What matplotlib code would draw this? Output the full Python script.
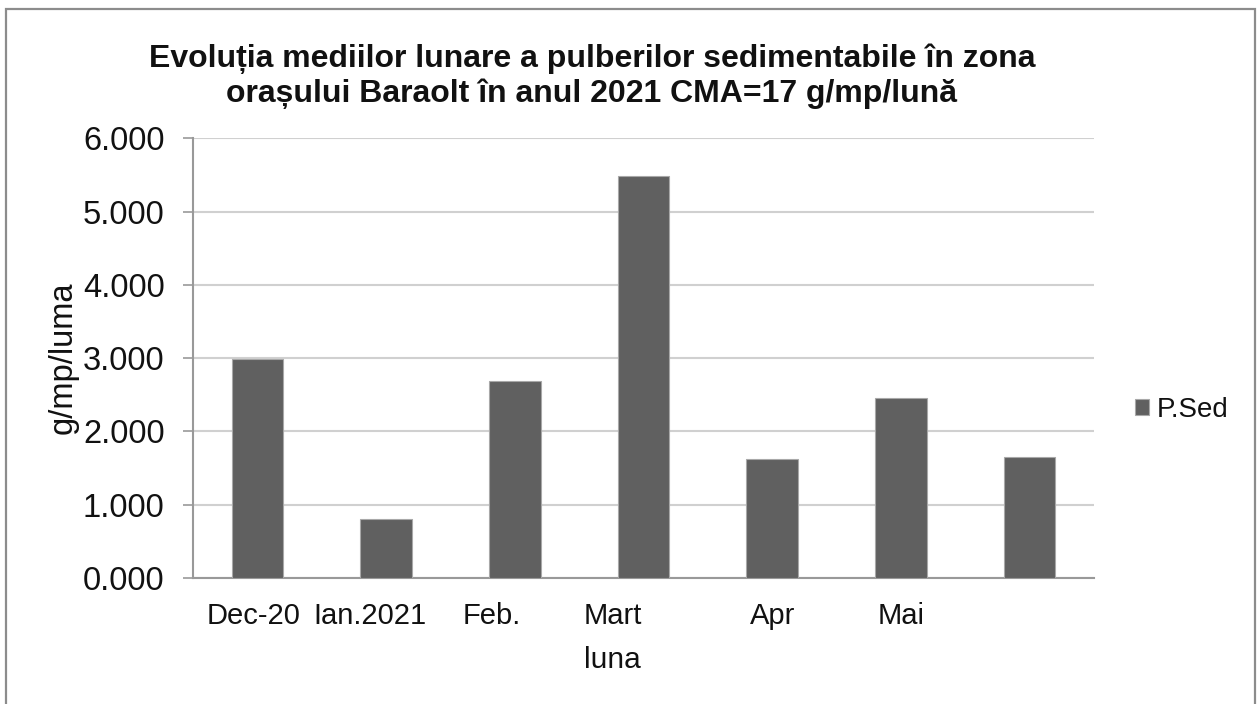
import matplotlib
matplotlib.use("Agg")
import matplotlib.pyplot as plt
import matplotlib.transforms as mtransforms
from matplotlib.patches import Rectangle
from matplotlib.ticker import FuncFormatter, MultipleLocator

categories = ["Dec-20", "Ian.2021", "Feb.", "Mart", "Apr", "Mai", ""]
values = [2.984, 0.80, 2.684, 5.49, 1.62, 2.46, 1.655]
series_name = "P.Sed"
title = "Evoluția mediilor lunare a pulberilor sedimentabile în zona\norașului Baraolt în anul 2021 CMA=17 g/mp/lună"
xlabel = "luna"
ylabel = "g/mp/luma"

plt.rcParams['font.family'] = ['Liberation Sans', 'DejaVu Sans']

W, H = 1260, 704
fig = plt.figure(figsize=(W / 100, H / 100), dpi=100)
ax = fig.add_axes([193 / W, 1 - 578 / H, (1094 - 193) / W, (578 - 138.3) / H])

x = list(range(len(categories)))
ax.bar(x, values, width=0.4, color="#606060", edgecolor="#a8a8a8", linewidth=0.8,
       label=series_name, zorder=3)

ax.set_xlim(-0.5, len(categories) - 0.5)
ax.set_ylim(0, 6)
ax.yaxis.set_major_locator(MultipleLocator(1))
ax.yaxis.set_major_formatter(FuncFormatter(lambda v, p: f"{v:.3f}"))
ax.grid(axis="y", color="#d0d0d0", linewidth=1.5, zorder=0)
ax.set_axisbelow(True)

for s in ["top", "right"]:
    ax.spines[s].set_visible(False)
for s in ["left", "bottom"]:
    ax.spines[s].set_color("#999999")
    ax.spines[s].set_linewidth(1.5)

ax.set_xticks(x)
ax.set_xticklabels(categories, fontsize=21, color="#111111")
ax.tick_params(axis="x", length=0, pad=17)
ax.tick_params(axis="y", labelsize=23.5, labelcolor="#111111", length=7.5, width=1.2,
               color="#999999", pad=13)

# horizontal shifts of the x labels as seen in the reference
shifts = [-4, -16, -23, -31, 0, 0, 0]
for lbl, dx in zip(ax.get_xticklabels(), shifts):
    lbl.set_transform(lbl.get_transform() + mtransforms.ScaledTranslation(dx / 100, 0, fig.dpi_scale_trans))

ax.set_xlabel(xlabel, fontsize=21.5, color="#111111")
ax.xaxis.set_label_coords((612 - 193) / (1094 - 193), -0.155)
ax.set_ylabel(ylabel, fontsize=23.5, color="#111111")
ax.yaxis.set_label_coords((79 - 193) / (1094 - 193), 0.5)

fig.text(592 / W, 1 - 76 / H, title, ha="center", va="center", fontsize=23,
         fontweight="bold", color="#111111", linespacing=1.2)

leg = ax.legend(loc="center left", bbox_to_anchor=(1135 / W, 1 - 410 / H),
                bbox_transform=fig.transFigure, frameon=False, fontsize=20,
                handlelength=0.5, handleheight=0.5, handletextpad=0.3,
                borderpad=0, borderaxespad=0)
for t in leg.get_texts():
    t.set_color("#111111")

fig.patches.append(Rectangle((6 / W, -0.01), (1255 - 6) / W, 1.01 - 9 / H,
                             transform=fig.transFigure, fill=False,
                             edgecolor="#8c8c8c", linewidth=1.6))

fig.savefig("out.png", dpi=100, facecolor="white")
